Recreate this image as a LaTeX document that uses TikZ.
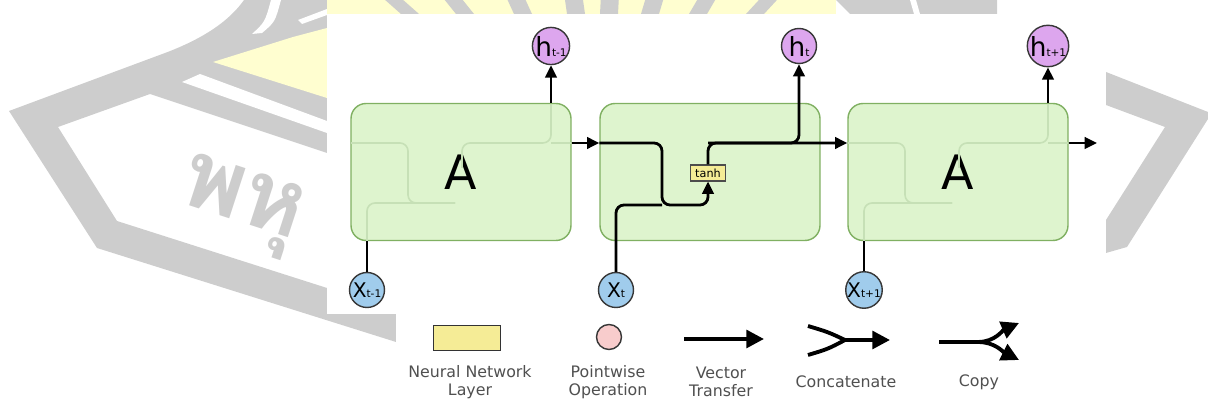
\documentclass[tikz,border=0pt]{standalone}
\usepackage{fontspec}
\setmainfont{DejaVu Sans}
\newfontfamily\thaifont[Script=Thai]{Loma}
\usetikzlibrary{arrows.meta, positioning}

\definecolor{cellfill}{RGB}{222,244,206}
\definecolor{celledge}{RGB}{128,176,98}
\definecolor{ghost}{RGB}{198,224,182}
\definecolor{hfill}{RGB}{221,166,238}
\definecolor{xfill}{RGB}{160,204,236}
\definecolor{layerfill}{RGB}{245,236,150}
\definecolor{opfill}{RGB}{248,204,204}
\definecolor{ringedge}{RGB}{55,55,55}
\definecolor{wmgray}{RGB}{205,205,205}
\definecolor{wmyellow}{RGB}{255,254,208}
\definecolor{labelgray}{RGB}{80,80,80}

\tikzset{
  cell/.style={draw=celledge, line width=0.8pt, fill=cellfill, rounded corners=0.3cm,
    minimum width=4.4cm, minimum height=2.74cm, inner sep=0pt, font=\fontsize{27}{27}\selectfont},
  hvec/.style={circle, draw=ringedge, line width=0.8pt, fill=hfill, minimum size=0.7cm, inner sep=0pt},
  xvec/.style={circle, draw=ringedge, line width=0.8pt, fill=xfill, minimum size=0.7cm, inner sep=0pt},
  layer/.style={draw=black!70, line width=0.6pt, fill=layerfill, minimum width=0.7cm,
    minimum height=0.32cm, inner sep=0pt, font=\fontsize{6.4}{6.4}\selectfont},
  flow/.style={line width=1.6pt, rounded corners=0.16cm},
  ghostline/.style={draw=ghost, line width=0.9pt, rounded corners=0.16cm},
  keyflow/.style={line width=2.2pt, >={Triangle[length=10pt,width=10pt]}},
  legendtxt/.style={text=labelgray, align=center, font=\fontsize{9}{10}\selectfont},
}
\newcommand{\outlbl}[1]{{\fontsize{15}{15}\selectfont h}{\fontsize{6}{6}\selectfont #1}}
\newcommand{\inlbl}[1]{{\fontsize{11.5}{11.5}\selectfont X}{\fontsize{6}{6}\selectfont #1}}

\begin{document}
\begin{tikzpicture}[x=0.02cm, y=-0.02cm, >={Triangle[length=7pt,width=6.5pt]}]
\useasboundingbox (0,0) rectangle (1208,404);

% watermark behind the figure
\fill[wmgray] (9,111) -- (165,53) .. controls (205,38) and (230,20) .. (244,0) -- (327,0) -- (327,153)
  -- (150,94) -- (58,127) -- (117,221) -- (396,310) -- (396,342) -- (97,248) -- cycle;
\fill[white] (182,82) -- (200,74) -- (327,121) -- (327,133) -- cycle;
\fill[wmyellow] (213,62) -- (293,37) -- (327,28) -- (327,98) -- cycle;
\fill[white] (252,34) .. controls (265,22) .. (271,0) -- (281,0) .. controls (275,22) .. (262,33) -- cycle;
\fill[white] (298,20) -- (327,9) -- (327,15) -- (302,24) -- cycle;
\fill[wmyellow] (327,0) rectangle (836,14);
\foreach \ray in {410,465,523,576,609,650,698,755}
  \fill[wmgray] ({\ray-9},14) -- ({\ray+9},14) -- ({\ray+9+(\ray-600)/12},0) -- ({\ray-9+(\ray-600)/12},0) -- cycle;
\fill[wmgray] (836,0) -- (997,0) -- (997,14) -- (850,14) -- cycle;
\fill[white] (910,0) -- (916,0) -- (920,14) -- (914,14) -- cycle;
\fill[wmgray] (1106,72) -- (1208,112) -- (1208,119) -- (1127,247) -- (1106,253) -- (1106,220)
  -- (1165,127) -- (1106,105) -- cycle;
\node[text=wmgray, rotate=-18, font=\thaifont\bfseries\fontsize{54}{54}\selectfont] (wmtext) at (240,207) {พหุ};

% paper
\fill[white] (327,14) rectangle (1100,314);
\fill[white] (396,314) rectangle (1060,404);

% cells
\node[cell] (A1) at (461,172) {A};
\node[cell] (A2) at (710,172) {};
\node[cell] (A3) at (958,172) {A};
\node[layer] (tanh) at (708,173) {tanh};

% inputs and outputs
\node[hvec] (h1) at (551,46) {\outlbl{t-1}};
\node[hvec] (ht) at (799,46) {\outlbl{t}};
\node[hvec] (h3) at (1048,46) {\outlbl{t+1}};
\node[xvec] (x1) at (367,290) {\inlbl{t-1}};
\node[xvec] (xt) at (616,290) {\inlbl{t}};
\node[xvec] (x3) at (864,290) {\inlbl{t+1}};
\coordinate (hrow) at (0,143);
\coordinate (hout) at (1097,143);

% faint inner paths of the folded cells
\foreach \dx in {0,497} {
  \draw[ghostline] ({351+\dx},143) -- ({408+\dx},143) -- ({408+\dx},203) -- ({455+\dx},203);
  \draw[ghostline] ({367+\dx},241) -- ({367+\dx},203) -- ({455+\dx},203);
  \draw[ghostline] ({462+\dx},168) -- ({462+\dx},143) -- ({551+\dx},143) -- ({551+\dx},104);
  \draw[ghostline] ({551+\dx},143) -- ({571+\dx},143);
}

% connectors
\draw[flow] (x1) -- (x1 |- A1.south);
\draw[flow] (x3) -- (x3 |- A3.south);
\draw[flow, ->] (h1 |- A1.north) -- (h1);
\draw[flow, ->] (h3 |- A3.north) -- (h3);
\draw[flow, ->] (A1.east |- hrow) -- (A2.west |- hrow);
\draw[flow, ->] (A3.east |- hrow) -- (hout);

\draw[flow, ->] (A2.west |- hrow) -- (662,143) -- (662,205) -| (tanh.south);
\draw[flow] (xt) |- (662,205);
\draw[flow, ->] (tanh.north) |- (ht |- hrow) -- (A3.west |- hrow);
\draw[flow, ->] (tanh.north |- hrow) -| (ht);

% legend
\node[draw=black!80, line width=0.9pt, fill=layerfill, minimum width=1.34cm, minimum height=0.5cm] (nnkey) at (467,338) {};
\node[circle, draw=ringedge, line width=0.8pt, fill=opfill, minimum size=0.5cm, inner sep=0pt] (opkey) at (609,337) {};
\coordinate (vecfrom) at (684,339);
\coordinate (vecto) at (764,339);
\coordinate (catA) at (808,326);
\coordinate (catB) at (808,355);
\coordinate (catjoin) at (845,340);
\coordinate (catto) at (890,340);
\coordinate (cpfrom) at (939,342);
\coordinate (cpsplit) at (978,342);
\coordinate (cpup) at (1019,323);
\coordinate (cpdown) at (1019,360);

\draw[keyflow, ->] (vecfrom) -- (vecto);
\draw[keyflow, ->] (catA) .. controls (828,332) .. (catjoin) -- (catto);
\draw[keyflow] (catB) .. controls (828,349) .. (catjoin);
\draw[keyflow] (cpfrom) -- (cpsplit);
\draw[keyflow, ->] (cpsplit) .. controls (995,342) and (1003,330) .. (cpup);
\draw[keyflow, ->] (cpsplit) .. controls (995,342) and (1003,352) .. (cpdown);

\node[legendtxt] (nnlbl) at (470,382) {Neural Network\\Layer};
\node[legendtxt] (oplbl) at (608,382) {Pointwise\\Operation};
\node[legendtxt] (veclbl) at (721,382) {Vector\\Transfer};
\node[legendtxt] (catlbl) at (846,382) {Concatenate};
\node[legendtxt] (cplbl) at (979,382) {Copy};
\end{tikzpicture}
\end{document}
